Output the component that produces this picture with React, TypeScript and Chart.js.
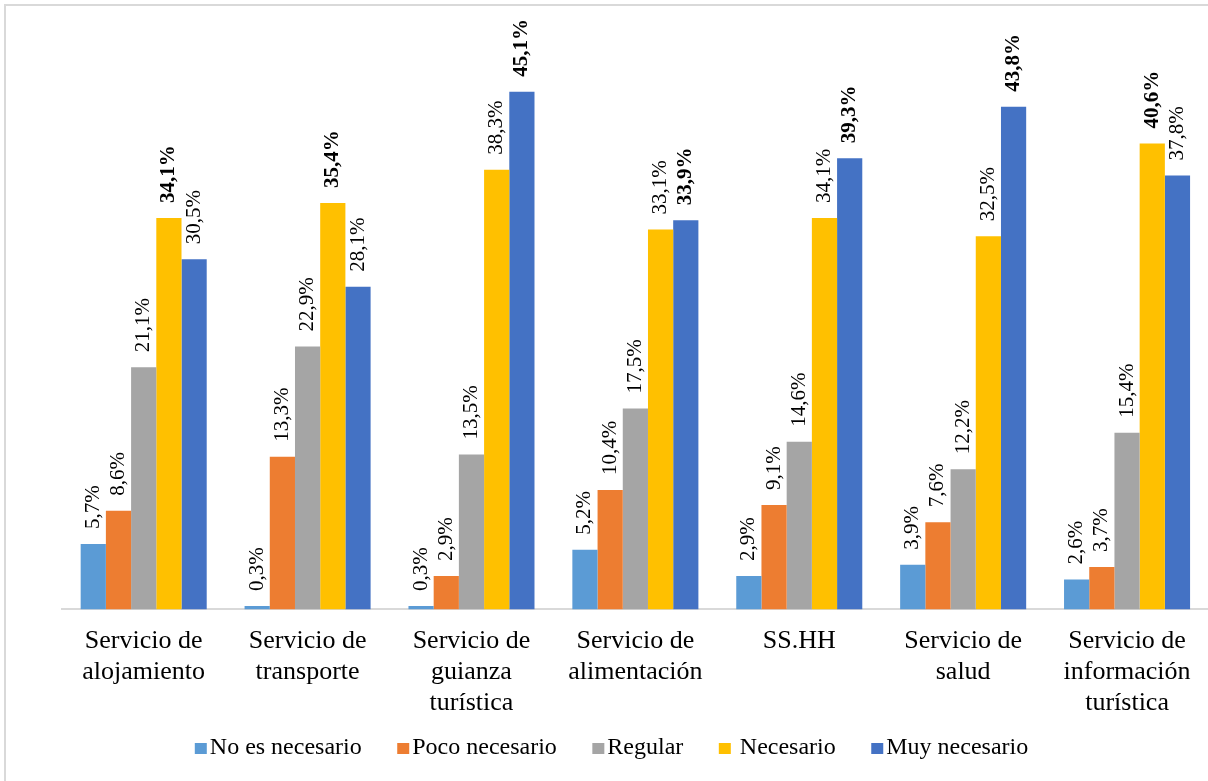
import React, { useEffect, useRef } from 'react';
import { Chart, registerables } from 'chart.js';

Chart.register(...registerables);

const categories: string[][] = [
  ['Servicio de', 'alojamiento'],
  ['Servicio de', 'transporte'],
  ['Servicio de', 'guianza', 'turística'],
  ['Servicio de', 'alimentación'],
  ['SS.HH'],
  ['Servicio de', 'salud'],
  ['Servicio de', 'información', 'turística'],
];

const seriesNames = ['No es necesario', 'Poco necesario', 'Regular', 'Necesario', 'Muy necesario'];
const legendLabels = ['No es necesario', 'Poco necesario', 'Regular', ' Necesario', 'Muy necesario'];

const noEsNecesario = [5.7, 0.3, 0.3, 5.2, 2.9, 3.9, 2.6];
const pocoNecesario = [8.6, 13.3, 2.9, 10.4, 9.1, 7.6, 3.7];
const regular = [21.1, 22.9, 13.5, 17.5, 14.6, 12.2, 15.4];
const necesario = [34.1, 35.4, 38.3, 33.1, 34.1, 32.5, 40.6];
const muyNecesario = [30.5, 28.1, 45.1, 33.9, 39.3, 43.8, 37.8];

const seriesValues = [noEsNecesario, pocoNecesario, regular, necesario, muyNecesario];
const colors = ['#5B9BD5', '#ED7D31', '#A5A5A5', '#FFC000', '#4472C4'];

const FONT = '"Liberation Serif", "Times New Roman", serif';

const fmt = (v: number) => v.toFixed(1).replace('.', ',') + '%';

const borderPlugin = {
  id: 'outerBorder',
  beforeDraw(chart: any) {
    const ctx = chart.ctx;
    ctx.save();
    ctx.strokeStyle = '#d9d9d9';
    ctx.lineWidth = 2;
    ctx.strokeRect(5, 5, 3000, 3000);
    ctx.restore();
  },
};

const valueLabelPlugin = {
  id: 'valueLabels',
  afterDatasetsDraw(chart: any) {
    const ctx = chart.ctx;
    const nCat = categories.length;
    const maxes: number[] = [];
    for (let c = 0; c < nCat; c++) {
      let m = -Infinity;
      chart.data.datasets.forEach((ds: any) => {
        if (ds.data[c] > m) m = ds.data[c];
      });
      maxes.push(m);
    }
    ctx.save();
    ctx.fillStyle = '#000';
    chart.data.datasets.forEach((ds: any, di: number) => {
      const meta = chart.getDatasetMeta(di);
      meta.data.forEach((bar: any, i: number) => {
        const v = ds.data[i];
        const bold = v === maxes[i];
        ctx.save();
        ctx.translate(bar.x, bar.y - 15);
        ctx.rotate(-Math.PI / 2);
        ctx.font = `${bold ? 'bold ' : ''}21px ${FONT}`;
        ctx.textAlign = 'left';
        ctx.textBaseline = 'middle';
        ctx.fillText(fmt(v), 0, 0);
        ctx.restore();
      });
    });
    ctx.restore();
  },
};

const legendPlugin = {
  id: 'customLegend',
  afterDraw(chart: any) {
    const ctx = chart.ctx;
    ctx.save();
    ctx.font = `24px ${FONT}`;
    const boxW = 12;
    const boxH = 11;
    const textGap = 3;
    const itemGap = 35.5;
    const widths = legendLabels.map((t) => boxW + textGap + ctx.measureText(t).width);
    const total = widths.reduce((a, b) => a + b, 0) + itemGap * (widths.length - 1);
    let x = 611.5 - total / 2;
    const boxTop = 743;
    const baseline = 754;
    legendLabels.forEach((t, i) => {
      ctx.fillStyle = colors[i];
      ctx.fillRect(x, boxTop, boxW, boxH);
      ctx.fillStyle = '#000';
      ctx.textAlign = 'left';
      ctx.textBaseline = 'alphabetic';
      ctx.fillText(t, x + boxW + textGap, baseline);
      x += widths[i] + itemGap;
    });
    ctx.restore();
  },
};

export default function App() {
  const ref = useRef<HTMLCanvasElement | null>(null);

  useEffect(() => {
    document.body.style.margin = '0';
    document.body.style.overflow = 'hidden';
    const canvas = ref.current;
    if (!canvas) return;
    const chart = new Chart(canvas, {
      type: 'bar',
      data: {
        labels: categories,
        datasets: seriesNames.map((name, i) => ({
          label: name,
          data: seriesValues[i],
          backgroundColor: colors[i],
          borderWidth: 0,
          categoryPercentage: 0.769,
          barPercentage: 1.0,
        })),
      },
      options: {
        responsive: false,
        animation: false,
        devicePixelRatio: 1,
        layout: {
          padding: { left: 61.75, right: 3, top: 35.5, bottom: 46 },
        },
        plugins: {
          legend: { display: false },
          tooltip: { enabled: false },
          title: { display: false },
        },
        scales: {
          x: {
            grid: { display: false, drawTicks: false },
            border: { display: true, color: '#d9d9d9', width: 2 },
            ticks: {
              color: '#000',
              padding: 16,
              maxRotation: 0,
              autoSkip: false,
              font: { family: FONT, size: 26, lineHeight: 1.2 },
            },
          },
          y: {
            display: false,
            min: 0,
            max: 50,
          },
        },
      },
      plugins: [borderPlugin, valueLabelPlugin, legendPlugin],
    });
    return () => chart.destroy();
  }, []);

  return (
    <div style={{ position: 'absolute', left: 0, top: 0, width: 1208, height: 781, overflow: 'hidden', background: '#fff' }}>
      <canvas ref={ref} width={1212} height={781} style={{ width: 1212, height: 781, display: 'block' }} />
    </div>
  );
}
